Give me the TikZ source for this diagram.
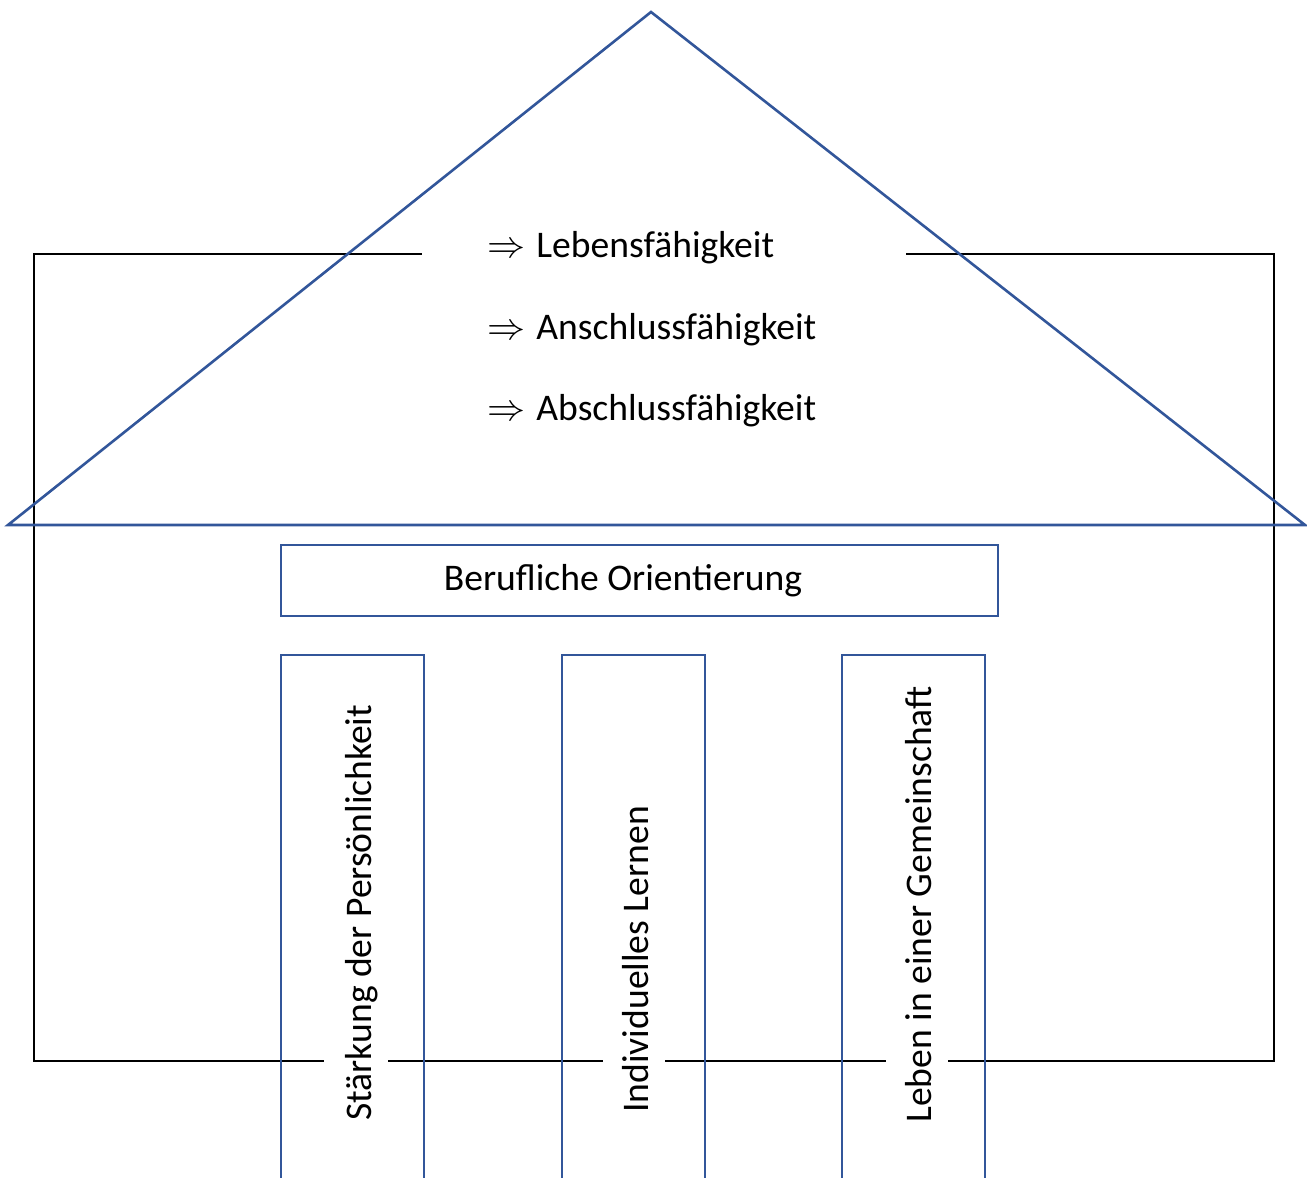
\documentclass[tikz,border=0pt]{standalone}
\usepackage{fontspec}
\usepackage{graphicx}
\setmainfont{Carlito}
\definecolor{houseblue}{RGB}{50,86,154}
\newcommand{\roofarrow}{\scalebox{1.1}{$\Rightarrow$}\hspace{5.5pt}}
\tikzset{
  outline/.style={draw=black, line width=1pt},
  roof/.style={draw=houseblue, line width=1.3pt, line join=miter},
  bluebox/.style={draw=houseblue, line width=1.1pt},
  rooftext/.style={anchor=base west, inner sep=0pt, font=\fontsize{18.8}{22}\selectfont},
  coltext/.style={rotate=90, anchor=base west, inner sep=0pt, font=\fontsize{18.8}{22}\selectfont},
}
\begin{document}
\begin{tikzpicture}[x=0.5pt, y=-0.5pt]
\useasboundingbox (0,0) rectangle (1307,1178);
% house outline
\draw[outline] (34,254) rectangle (1274,1061);
% white patches where texts interrupt the outline
\fill[white] (422,212) rectangle (906,440);
\fill[white] (324,1054) rectangle (388,1068);
\fill[white] (603,1054) rectangle (665,1068);
\fill[white] (886,1054) rectangle (948,1068);
% roof
\draw[roof] (8,525) -- (651,12) -- (1305,525) -- cycle;
\node[rooftext] (t1) at (487,257) {\roofarrow Lebensfähigkeit};
\node[rooftext] (t2) at (487,339) {\roofarrow Anschlussfähigkeit};
\node[rooftext] (t3) at (487,420) {\roofarrow Abschlussfähigkeit};
% beam
\draw[bluebox] (281,545) rectangle (998,616);
\node[font=\fontsize{18.8}{22}\selectfont, anchor=base, inner sep=0pt] (beam) at (623,590) {Berufliche Orientierung};
% pillar labels
\node[coltext] (p1) at (371,1121) {Stärkung der Persönlichkeit};
\node[coltext] (p2) at (648,1113) {Individuelles Lernen};
\node[coltext] (p3) at (931,1123) {Leben in einer Gemeinschaft};
% pillars
\draw[bluebox] (281,1180) -- (281,655) -- (424,655) -- (424,1180);
\draw[bluebox] (562,1180) -- (562,655) -- (705,655) -- (705,1180);
\draw[bluebox] (842,1180) -- (842,655) -- (985,655) -- (985,1180);
\end{tikzpicture}
\end{document}
